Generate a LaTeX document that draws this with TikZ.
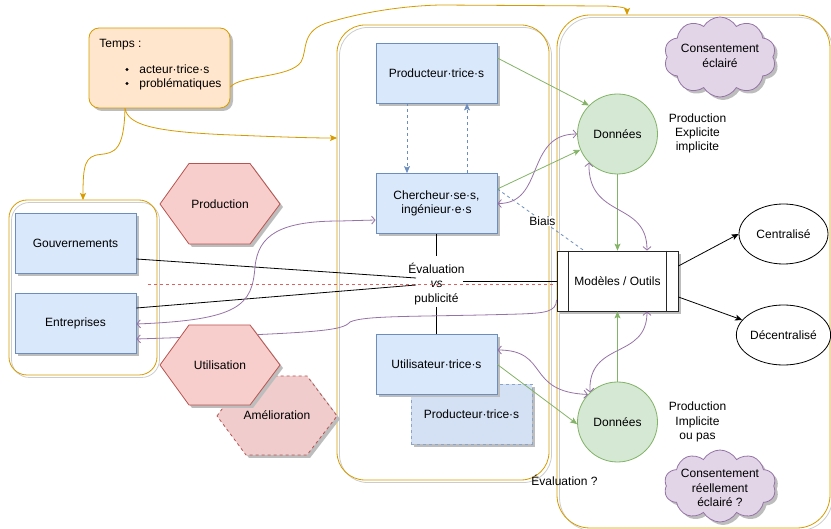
\documentclass[tikz,border=0pt]{standalone}
\usepackage{fontspec}
\setmainfont{Liberation Sans}
\usetikzlibrary{arrows.meta,shapes.geometric,shapes.symbols,shadows,calc}
\definecolor{obox}{HTML}{FFE6CC}
\definecolor{ostroke}{HTML}{D79B00}
\definecolor{bfill}{HTML}{DAE8FC}
\definecolor{bstroke}{HTML}{6C8EBF}
\definecolor{rfill}{HTML}{F8CECC}
\definecolor{rstroke}{HTML}{B85450}
\definecolor{gfill}{HTML}{D5E8D4}
\definecolor{gstroke}{HTML}{82B366}
\definecolor{pfill}{HTML}{E1D5E7}
\definecolor{pstroke}{HTML}{9673A6}
\definecolor{shad}{HTML}{BDBDBD}
\definecolor{cshad}{HTML}{CCCCCC}
\definecolor{reddash}{HTML}{E06060}
\definecolor{dfill}{HTML}{D4E1F5}
\definecolor{afill}{HTML}{F0CCCC}
\tikzset{
  ct/.tip={Stealth[length=7pt,width=6pt,inset=1.5pt]},
  pb/.tip={Straight Barb[length=3.5pt,width=8pt]},
  sh/.style={drop shadow={shadow xshift=3pt,shadow yshift=-3pt,fill=shad,opacity=1}},
  bbox/.style={draw=bstroke,fill=bfill,sh,minimum width=121pt,minimum height=60pt,inner sep=0pt,align=center},
  cont/.style={draw=ostroke,rounded corners=#1,inner sep=0pt,outer sep=0pt},
  cshadow/.style={draw=cshad,rounded corners=#1},
  gline/.style={draw=gstroke,-ct},
  pline/.style={draw=pstroke,pb-pb},
  pline1/.style={draw=pstroke,-pb},
  oline/.style={draw=ostroke,-ct},
  bdash/.style={draw=bstroke,dash pattern=on 3pt off 3pt},
  hexa/.style={draw=rstroke,fill=rfill,sh},
  cloudbox/.style={cloud,cloud puffs=10,cloud puff arc=120,draw=pstroke,fill=pfill,sh,inner sep=0pt},
  txt/.style={inner sep=0pt,align=center}
}
\begin{document}
\begin{tikzpicture}[x=1pt,y=-1pt,line width=0.8pt,font=\fontsize{12}{14.4}\selectfont]
\useasboundingbox (0,0) rectangle (831,529);

% containers
\draw[cshadow=18pt] (11.5,202.5) rectangle (159.5,377.5);
\draw[cshadow=28pt] (339.5,27.5) rectangle (551.5,482.5);
\draw[cshadow=33pt] (559.5,17.5) rectangle (832.5,530.5);
\node[cont=18pt,minimum width=148pt,minimum height=175pt] (lc) at (83,287.5) {};
\node[cont=28pt,minimum width=212pt,minimum height=455pt] (mc) at (443,252.5) {};
\node[cont=33pt,minimum width=273pt,minimum height=513pt] (rc) at (693.5,271.5) {};

% Temps box
\node[draw=ostroke,fill=obox,sh,rounded corners=10pt,minimum width=141pt,minimum height=80pt,inner sep=0pt] (temps) at (159.5,68) {};
\node[anchor=base west,inner sep=0pt] (tT) at (99,47.3) {Temps :};
\node[anchor=base west,inner sep=0pt] (tA) at (139,73.3) {acteur·trice·s};
\node[anchor=base west,inner sep=0pt] (tP) at (139,87.3) {problématiques};
\fill (127,69.5) circle (1.7);
\fill (127,83.5) circle (1.7);

% boxes
\node[bbox] (gov) at (75.5,243) {Gouvernements};
\node[bbox] (ent) at (75.5,323) {Entreprises};
\node[bbox] (ptop) at (436.5,73) {Producteur·trice·s};
\node[bbox] (chr) at (436.5,203.5) {Chercheur·se·s,\\ingénieur·e·s};
\node[bbox,fill=dfill,draw=bstroke!80,dash pattern=on 3pt off 3pt] (pdash) at (471.5,414) {Producteur·trice·s};
\node[bbox] (uti) at (436.5,364.5) {Utilisateur·trice·s};

\node[circle,draw=gstroke,fill=gfill,minimum size=80pt,inner sep=0pt] (d1) at (617.5,134) {Données};
\node[circle,draw=gstroke,fill=gfill,minimum size=80pt,inner sep=0pt] (d2) at (617.5,422) {Données};
\node[draw=black!85,fill=white,sh,minimum width=121pt,minimum height=60pt,inner sep=0pt] (mod) at (617.5,281) {Modèles / Outils};
\draw[black!85] ([xshift=12pt]mod.north west) -- ([xshift=12pt]mod.south west);
\draw[black!85] ([xshift=-12pt]mod.north east) -- ([xshift=-12pt]mod.south east);
\node[ellipse,draw=black,fill=white,minimum width=89pt,minimum height=60pt,inner sep=0pt] (cen) at (783.5,234) {Centralisé};
\node[ellipse,draw=black,fill=white,minimum width=89pt,minimum height=60pt,inner sep=0pt] (dec) at (783.5,335) {Décentralisé};

\node[cloudbox,minimum width=112pt,minimum height=80pt] (cl1) at (720,57) {};
\node[txt] (cl1t) at (720,56) {Consentement\\éclairé};
\node[cloudbox,minimum width=112pt,minimum height=72pt] (cl2) at (720,486) {};
\node[txt] (cl2t) at (720,488) {Consentement\\réellement\\éclairé ?};

\node[txt] (pe) at (697.5,133.5) {Production\\Explicite\\implicite};
\node[txt] (pi) at (697.5,422) {Production\\Implicite\\ou pas};
\node[txt] (evq) at (564.5,480) {Évaluation ?};
\node[txt] (evl) at (436.5,284) {Évaluation\\\textit{vs}\\publicité};

% named points around the label
\coordinate (evGL) at (416,278);
\coordinate (evEL) at (416,285);
\coordinate (evR) at (463,281);
\coordinate (evT) at (436.5,256);
\coordinate (evB) at (436.5,307);
\coordinate (rdA) at (148,284);
\coordinate (rdB) at (556,284);

% red dashed line
\draw[reddash,dash pattern=on 3pt off 3pt] (rdA) -- (rdB);

% black lines
\draw ([yshift=-16pt]gov.east) -- (evGL);
\draw ([yshift=15pt]ent.east) -- (evEL);
\draw (evR) -- (mod.west);
\draw (chr.south) -- (evT);
\draw (evB) -- (uti.north);
\draw[-ct] ([yshift=15pt]mod.east) -- (cen.west);
\draw[-ct] ([yshift=-16pt]mod.east) -- (dec.160);

% green
\draw[gline] ([yshift=15pt]ptop.east) -- (d1.135);
\draw[gline] ([yshift=14.5pt]chr.east) -- (d1.203);
\draw[gline] (d1.south) -- (mod.north);
\draw[gline] (d2.north) -- (mod.south);
\draw[gline] (uti.east) -- (d2.183);

% blue dashed
\draw[bdash,-ct] ([xshift=-29.5pt]ptop.south) -- ([xshift=-29.5pt]chr.north);
\draw[bdash,-ct] ([xshift=30.5pt]chr.north) -- ([xshift=30.5pt]ptop.south);
\draw[bdash] ([yshift=14.5pt]chr.east) -- node[pos=0.52,fill=white,inner sep=1pt,text=black] (biais) {Biais} ([xshift=-33.5pt]mod.north);

% purple
\draw[pline] (chr.east) .. controls (545,204) and (525,134) .. (d1.west);
\draw[pline] (d1.225) .. controls (588,220) and (647,200) .. ([xshift=29.5pt]mod.north);
\draw[pline] (d2.133) .. controls (588,340) and (647,360) .. ([xshift=29.5pt]mod.south);
\draw[pline] ([yshift=14.5pt]uti.east) .. controls (550,350) and (525,392) .. (d2.137);
\draw[pline1] ([yshift=-19pt]mod.west) .. controls (556,312) and (545,313) .. (520,314) .. controls (420,317) and (365,315) .. (350,322) .. controls (342,331) and (320,333) .. ([yshift=-16pt]ent.east);
\draw[pline] ([yshift=-1pt]ent.east) .. controls (240,320) and (252,305) .. (255,267) .. controls (258,235) and (280,221) .. (340,221) -- ([yshift=-16.5pt]chr.west);

% orange
\draw[oline] ([xshift=-34.5pt]temps.south) .. controls (124,150) and (115,153) .. (100,154.5) .. controls (85,156) and (83,165) .. (lc.north);
\draw[oline] ([xshift=-34.5pt]temps.south) .. controls (128,124) and (150,131) .. (220,134.5) .. controls (280,137) and (310,138) .. ([yshift=114.5pt]mc.west);
\draw[oline] ([yshift=-19pt]temps.east) .. controls (240,75) and (290,78) .. (301,62) .. controls (308,50) and (300,30) .. (330,22) .. controls (360,13) and (400,6) .. (440,5) -- (600,6) .. controls (620,6) and (627,8) .. ([xshift=-66.5pt]rc.north);

% hexagons
\path[hexa] (160,204) -- (189,163.5) -- (250,163.5) -- (280,204) -- (250,244) -- (189,244) -- cycle;
\node (hprod) at (220,204) {Production};
\path[hexa,fill=afill,dash pattern=on 3pt off 3pt] (217,416) -- (246,376) -- (307,376) -- (337,416) -- (307,455) -- (246,455) -- cycle;
\path[hexa] (160,365) -- (189,325) -- (250,325) -- (280,365) -- (250,405) -- (189,405) -- cycle;
\node (huti) at (220,365) {Utilisation};
\node (hamel) at (277,415) {Amélioration};
\end{tikzpicture}
\end{document}
